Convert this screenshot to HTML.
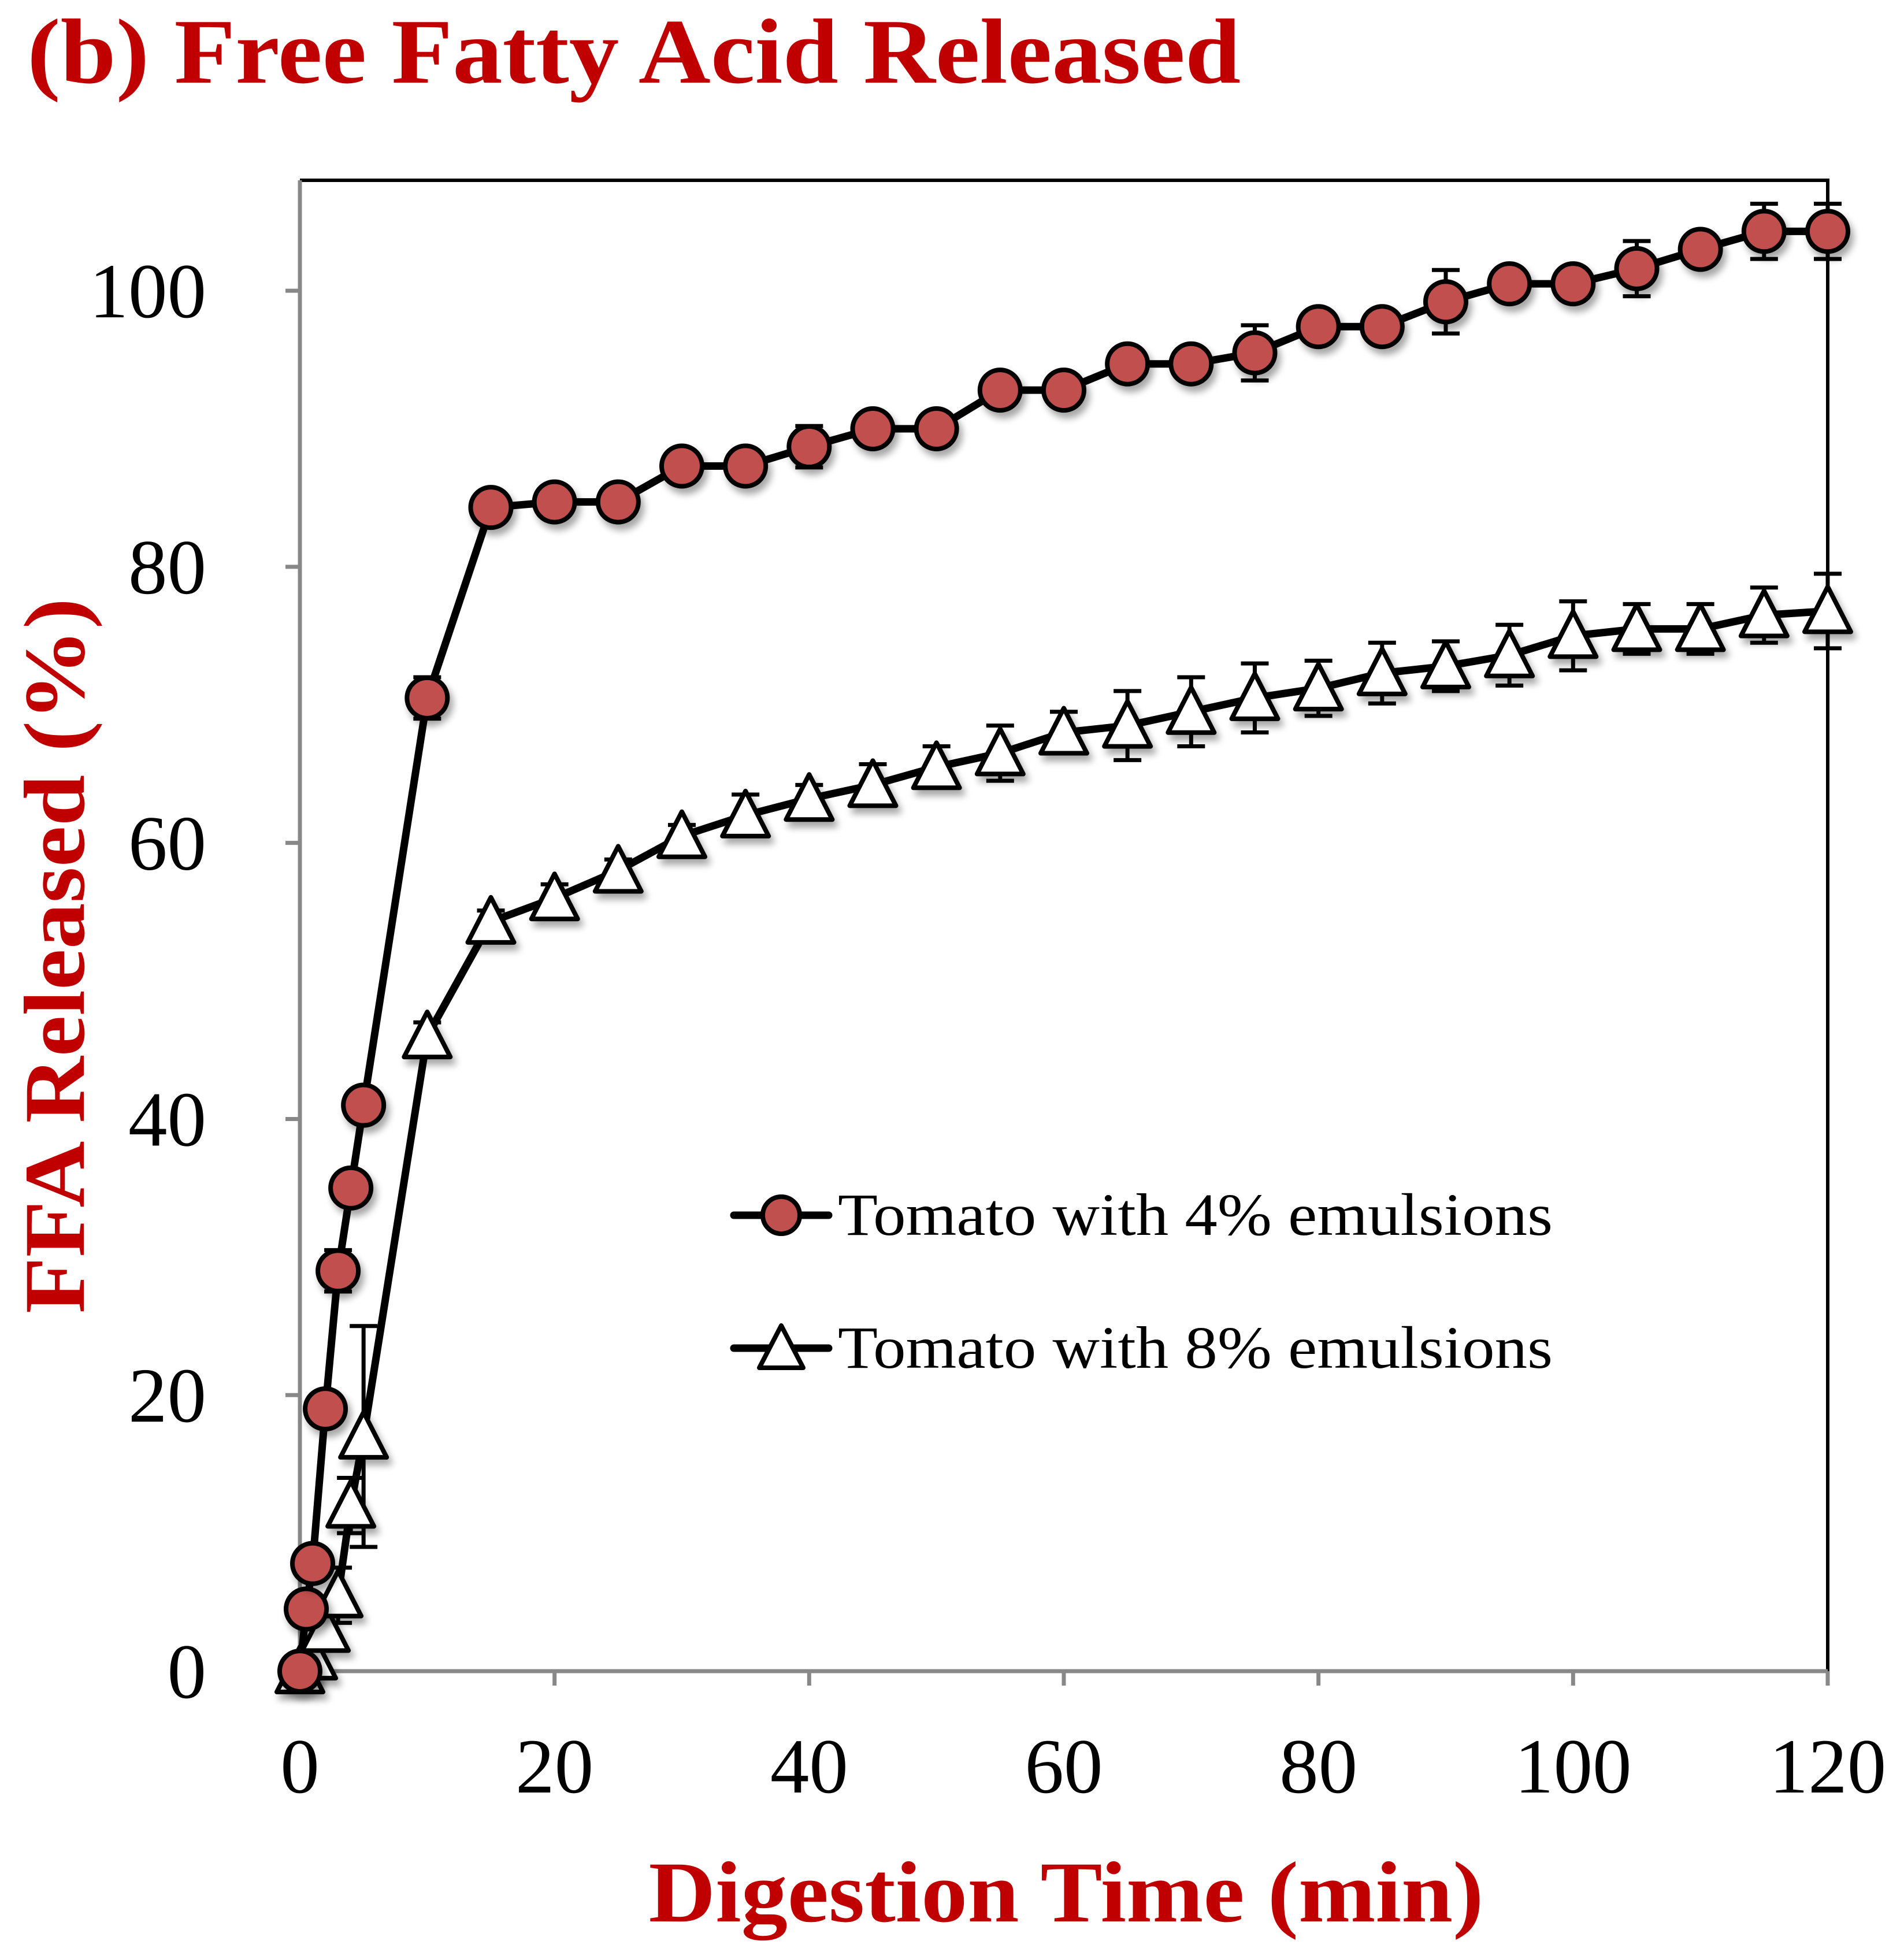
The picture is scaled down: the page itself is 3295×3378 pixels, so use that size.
<!DOCTYPE html>
<html><head><meta charset="utf-8"><style>
html,body{margin:0;padding:0;background:#fff;}
svg{display:block;}
</style></head><body>
<svg id="chart" width="3295" height="3378" viewBox="0 0 3295 3378" xmlns="http://www.w3.org/2000/svg" font-family="'Liberation Serif', serif">
<defs>
<filter id="sh" x="-50%" y="-50%" width="200%" height="200%">
<feGaussianBlur in="SourceAlpha" stdDeviation="6"/>
<feOffset dx="6" dy="10" result="o"/>
<feComponentTransfer><feFuncA type="linear" slope="0.35"/></feComponentTransfer>
<feMerge><feMergeNode/><feMergeNode in="SourceGraphic"/></feMerge>
</filter>
</defs>
<text x="47" y="143" font-size="160" font-weight="bold" fill="#C00000" textLength="2100" lengthAdjust="spacingAndGlyphs">(b) Free Fatty Acid Released</text>
<g id="axes"></g>
<g id="series"></g>
<text x="1845" y="3325" font-size="150" font-weight="bold" fill="#C00000" text-anchor="middle" textLength="1445" lengthAdjust="spacingAndGlyphs">Digestion Time (min)</text>
<text transform="translate(145,1654) rotate(-90)" font-size="150" font-weight="bold" fill="#C00000" text-anchor="middle" textLength="1238" lengthAdjust="spacingAndGlyphs">FFA Released (%)</text>
<g>
<g>
<line x1="1270" y1="2103" x2="1434" y2="2103" stroke="#000" stroke-width="13" stroke-linecap="round"/>
<circle cx="1352" cy="2103" r="32" fill="#C0504D" stroke="#000" stroke-width="8"/>
<text x="1450" y="2137" font-size="104" textLength="1237" lengthAdjust="spacingAndGlyphs">Tomato with 4% emulsions</text>
</g>
<g>
<line x1="1270" y1="2333" x2="1434" y2="2333" stroke="#000" stroke-width="13" stroke-linecap="round"/>
<polygon points="1352,2294 1390,2367 1314,2367" fill="#fff" stroke="#000" stroke-width="8" stroke-linejoin="round"/>
<text x="1450" y="2367" font-size="104" textLength="1237" lengthAdjust="spacingAndGlyphs">Tomato with 8% emulsions</text>
</g>
</g>
</svg>
<script>
const xTicks = [0,20,40,60,80,100,120];
const yTicks = [0,20,40,60,80,100];
const times4 = [0,0.5,1,2,3,4,5,10,15,20,25,30,35,40,45,50,55,60,65,70,75,80,85,90,95,100,105,110,115,120];
const ffa4 = [0,4.5,7.8,19,29,35,41,70.5,84.3,84.7,84.7,87.3,87.3,88.7,90,90,92.8,92.8,94.7,94.7,95.5,97.4,97.4,99.2,100.5,100.5,101.6,103,104.3,104.3];
const err4 = [0,1,1,1,1.5,0.8,0.8,1.5,0.5,0.5,0.5,0.8,0.5,1.5,0.5,0.5,0.5,0.5,0.8,0.5,2,0.5,0.5,2.3,0.5,0.5,2,0.5,2,2];
const times8 = [0,1,2,3,4,5,10,15,20,25,30,35,40,45,50,55,60,65,70,75,80,85,90,95,100,105,110,115,120];
const ffa8 = [0,1,3,5.5,12,17,46,54.3,56,58,60.5,62,63.2,64.2,65.5,66.5,68,68.5,69.5,70.5,71.2,72.3,72.8,73.6,75,75.5,75.5,76.5,76.8];
const err8 = [0,0.8,1.5,2,2,8,1,0.8,1,0.8,0.8,1.5,1,1.5,1.5,2,1.5,2.5,2.5,2.5,2,2.2,1.8,2.2,2.5,1.8,1.8,2,2.7];

const X0=519, X1=3163, Y0=2892, YT=312, XMAX=120, YMAX=108;
const sx = v => X0 + v/XMAX*(X1-X0);
const sy = v => Y0 - v/YMAX*(Y0-YT);
const NS="http://www.w3.org/2000/svg";
function mk(tag, attrs, parent){const e=document.createElementNS(NS,tag);for(const k in attrs)e.setAttribute(k,attrs[k]);parent.appendChild(e);return e;}
const axes=document.getElementById('axes'), ser=document.getElementById('series');

let f=mk('path',{d:`M${X0},${YT} H${X1} V${Y0}`,fill:'none',stroke:'#000','stroke-width':6},axes);


let ya=mk('line',{x1:X0,y1:YT,x2:X0,y2:Y0,stroke:'#888','stroke-width':7},axes);


let xa=mk('line',{x1:X0-3,y1:Y0,x2:X1,y2:Y0,stroke:'#888','stroke-width':7},axes);


xTicks.forEach(v=>{
  mk('line',{x1:sx(v),y1:Y0,x2:sx(v),y2:Y0+25,stroke:'#888','stroke-width':7},axes);
  const t=mk('text',{x:sx(v),y:Y0+210,'font-size':135,'text-anchor':'middle'},axes);
  t.textContent=v;
  
  
});
yTicks.forEach(v=>{
  mk('line',{x1:X0-25,y1:sy(v),x2:X0,y2:sy(v),stroke:'#888','stroke-width':7},axes);
  const t=mk('text',{x:357,y:sy(v)+46,'font-size':135,'text-anchor':'end'},axes);
  t.textContent=v;
  
  
});

function drawSeries(xs, ys, es, kind, name){
  const g=mk('g',{},ser);
  
  
  xs.forEach((x,i)=>{
    const cx=sx(x);
    mk('path',{d:`M${cx},${sy(ys[i]-es[i])} V${sy(ys[i]+es[i])} M${cx-24},${sy(ys[i]+es[i])} H${cx+24} M${cx-24},${sy(ys[i]-es[i])} H${cx+24}`,stroke:'#000','stroke-width':7,fill:'none'},g);
  });
  const pts=xs.map((x,i)=>`${sx(x)},${sy(ys[i])}`).join(' ');
  mk('polyline',{points:pts,fill:'none',stroke:'#000','stroke-width':13,'stroke-linejoin':'round'},g);
  xs.forEach((x,i)=>{
    const cx=sx(x), cy=sy(ys[i]);
    let m;
    if(kind==='circle') m=mk('circle',{cx:cx,cy:cy,r:35,fill:'#C0504D',stroke:'#000','stroke-width':8,filter:'url(#sh)'},g);
    else m=mk('polygon',{points:`${cx},${cy-42} ${cx+40},${cy+36} ${cx-40},${cy+36}`,fill:'#fff',stroke:'#000','stroke-width':8,'stroke-linejoin':'round',filter:'url(#sh)'},g);
    
    
  });
}
drawSeries(times8, ffa8, err8, 'tri', 'series-8pct-emulsions');
drawSeries(times4, ffa4, err4, 'circle', 'series-4pct-emulsions');
</script>
</body></html>
